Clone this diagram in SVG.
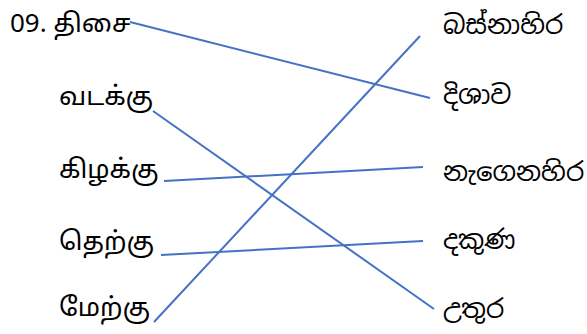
<svg xmlns="http://www.w3.org/2000/svg" width="587" height="334" viewBox="0 0 587 334">
<style>
.t{font-family:"Noto Sans Tamil","Latha","Noto Sans","Liberation Sans",sans-serif;font-size:26px;fill:#000}
.s{font-family:"Noto Sans Sinhala","Iskoola Pota","Noto Sans","Liberation Sans",sans-serif;font-size:26px;fill:#000}
.c line{stroke:#4472C4;stroke-width:2;fill:none}
</style>
<rect width="587" height="334" fill="#fff"/>
<g id="left">
<g id="n-thisai"><text class="t" x="10" y="32">09. திசை</text></g>
<g id="n-vadakku"><text class="t" x="59" y="105">வடக்கு</text></g>
<g id="n-kizhakku"><text class="t" x="59" y="178">கிழக்கு</text></g>
<g id="n-therku"><text class="t" x="59" y="250">தெற்கு</text></g>
<g id="n-merku"><text class="t" x="59" y="316">மேற்கு</text></g>
</g>
<g id="right">
<g id="n-basnahira"><text class="s" x="443" y="34">බස්නාහිර</text></g>
<g id="n-dishava"><text class="s" x="443" y="104">දිශාව</text></g>
<g id="n-negenahira"><text class="s" x="443" y="181">නැගෙනහිර</text></g>
<g id="n-dakuna"><text class="s" x="443" y="249">දකුණ</text></g>
<g id="n-uthura"><text class="s" x="443" y="318">උතුර</text></g>
</g>
<g id="connectors" class="c">
<line x1="130" y1="22" x2="430" y2="98"/>
<line x1="153" y1="111" x2="434" y2="309"/>
<line x1="164" y1="181" x2="423" y2="167"/>
<line x1="161" y1="255" x2="423" y2="241"/>
<line x1="154" y1="322" x2="420" y2="36"/>
</g>
</svg>
